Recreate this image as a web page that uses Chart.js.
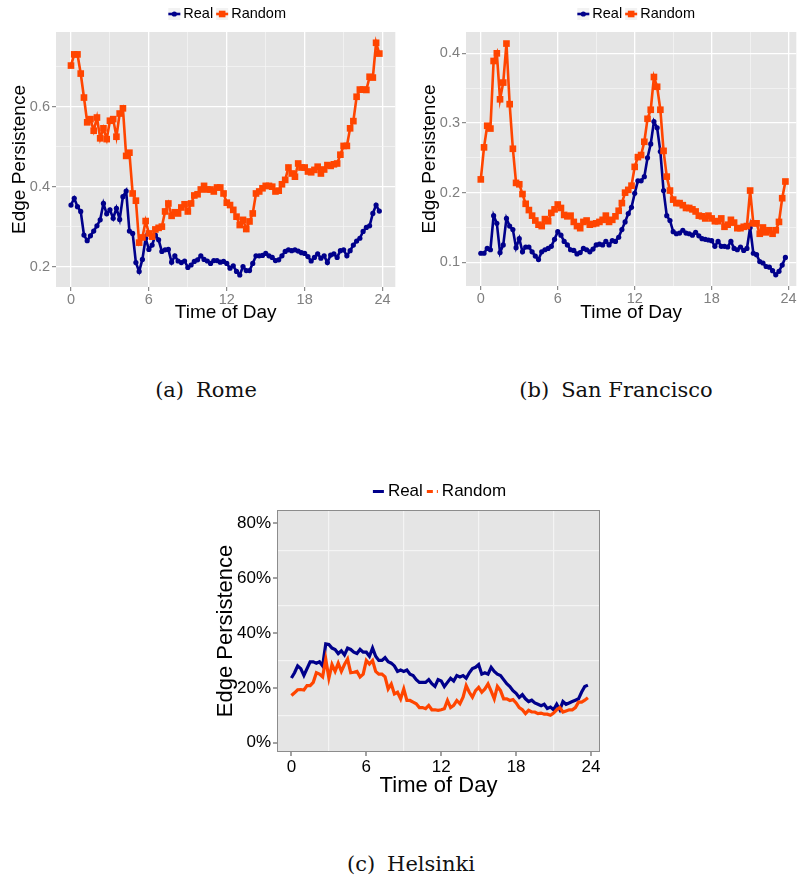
<!DOCTYPE html>
<html>
<head>
<meta charset="utf-8">
<script src="https://cdn.jsdelivr.net/npm/chart.js@4/dist/chart.umd.min.js"></script>
<style>
  html, body { margin: 0; padding: 0; background: #fff; }
  body { position: relative; width: 801px; height: 878px; overflow: hidden; }
  canvas { position: absolute; display: block; }
  .cap { position: absolute; font-family: "DejaVu Serif", serif; font-size: 21px; line-height: 24px;
         color: #111; white-space: nowrap; transform: translateX(-50%); }
  .cap .gap { display: inline-block; width: 12px; }
</style>
</head>
<body>
<canvas id="rome" width="400" height="330" style="left:0;top:0"></canvas>
<canvas id="sf" width="401" height="330" style="left:400px;top:0"></canvas>
<canvas id="helsinki" width="410" height="330" style="left:205px;top:475px"></canvas>
<div class="cap" style="left:206px;top:378px">(a)<span class="gap"></span>Rome</div>
<div class="cap" style="left:616px;top:378px">(b)<span class="gap"></span>San Francisco</div>
<div class="cap" style="left:411px;top:852px">(c)<span class="gap"></span>Helsinki</div>
<script>
// Time of day, one sample every 15 minutes
const HOURS = [
  0, 0.25, 0.5, 0.75, 1, 1.25, 1.5, 1.75, 2, 2.25, 2.5, 2.75,
  3, 3.25, 3.5, 3.75, 4, 4.25, 4.5, 4.75, 5, 5.25, 5.5, 5.75,
  6, 6.25, 6.5, 6.75, 7, 7.25, 7.5, 7.75, 8, 8.25, 8.5, 8.75,
  9, 9.25, 9.5, 9.75, 10, 10.25, 10.5, 10.75, 11, 11.25, 11.5, 11.75,
  12, 12.25, 12.5, 12.75, 13, 13.25, 13.5, 13.75, 14, 14.25, 14.5, 14.75,
  15, 15.25, 15.5, 15.75, 16, 16.25, 16.5, 16.75, 17, 17.25, 17.5, 17.75,
  18, 18.25, 18.5, 18.75, 19, 19.25, 19.5, 19.75, 20, 20.25, 20.5, 20.75,
  21, 21.25, 21.5, 21.75, 22, 22.25, 22.5, 22.75, 23, 23.25, 23.5, 23.75
];
const SERIES = ['Real', 'Random'];

// Rome
const ROME_REAL = [
  0.354, 0.371, 0.350, 0.338, 0.279, 0.265, 0.277, 0.289, 0.302, 0.317, 0.358, 0.332,
  0.342, 0.321, 0.346, 0.318, 0.375, 0.389, 0.289, 0.283, 0.210, 0.188, 0.218, 0.271,
  0.243, 0.254, 0.279, 0.267, 0.238, 0.242, 0.243, 0.211, 0.227, 0.214, 0.210, 0.214,
  0.198, 0.204, 0.213, 0.217, 0.227, 0.218, 0.214, 0.208, 0.215, 0.215, 0.211, 0.213,
  0.208, 0.196, 0.202, 0.188, 0.179, 0.200, 0.190, 0.190, 0.208, 0.227, 0.227, 0.228,
  0.233, 0.227, 0.223, 0.215, 0.217, 0.227, 0.238, 0.242, 0.240, 0.242, 0.239, 0.235,
  0.233, 0.225, 0.214, 0.223, 0.232, 0.221, 0.227, 0.210, 0.229, 0.232, 0.223, 0.240,
  0.242, 0.227, 0.240, 0.254, 0.264, 0.271, 0.288, 0.298, 0.302, 0.333, 0.354, 0.339
];
const ROME_RANDOM = [
  0.703, 0.731, 0.731, 0.683, 0.623, 0.561, 0.569, 0.540, 0.573, 0.521, 0.546, 0.519,
  0.565, 0.569, 0.525, 0.583, 0.596, 0.477, 0.485, 0.383, 0.365, 0.260, 0.273, 0.314,
  0.283, 0.275, 0.293, 0.297, 0.300, 0.338, 0.358, 0.327, 0.336, 0.333, 0.348, 0.356,
  0.338, 0.358, 0.378, 0.381, 0.393, 0.402, 0.393, 0.393, 0.388, 0.398, 0.398, 0.383,
  0.360, 0.354, 0.342, 0.325, 0.304, 0.317, 0.294, 0.313, 0.333, 0.383, 0.388, 0.396,
  0.402, 0.402, 0.400, 0.388, 0.390, 0.406, 0.417, 0.448, 0.433, 0.425, 0.458, 0.448,
  0.448, 0.438, 0.436, 0.442, 0.450, 0.433, 0.443, 0.454, 0.452, 0.456, 0.458, 0.480,
  0.502, 0.502, 0.546, 0.564, 0.625, 0.643, 0.643, 0.642, 0.675, 0.673, 0.760, 0.733
];

// San Francisco
const SF_REAL = [
  0.113, 0.113, 0.120, 0.118, 0.167, 0.156, 0.114, 0.125, 0.163, 0.152, 0.147, 0.121,
  0.134, 0.115, 0.122, 0.122, 0.115, 0.109, 0.104, 0.115, 0.118, 0.120, 0.123, 0.133,
  0.144, 0.139, 0.130, 0.125, 0.118, 0.117, 0.112, 0.114, 0.120, 0.118, 0.115, 0.119,
  0.125, 0.126, 0.125, 0.130, 0.125, 0.131, 0.130, 0.136, 0.147, 0.158, 0.170, 0.179,
  0.199, 0.217, 0.217, 0.223, 0.250, 0.270, 0.302, 0.293, 0.259, 0.203, 0.167, 0.160,
  0.144, 0.141, 0.142, 0.146, 0.142, 0.141, 0.139, 0.143, 0.138, 0.134, 0.133, 0.132,
  0.131, 0.123, 0.130, 0.123, 0.123, 0.122, 0.130, 0.120, 0.118, 0.122, 0.117, 0.120,
  0.150, 0.113, 0.111, 0.101, 0.099, 0.094, 0.093, 0.088, 0.082, 0.087, 0.096, 0.107
];
const SF_RANDOM = [
  0.219, 0.265, 0.296, 0.292, 0.389, 0.400, 0.334, 0.358, 0.414, 0.327, 0.263, 0.214,
  0.212, 0.198, 0.184, 0.175, 0.167, 0.160, 0.154, 0.152, 0.162, 0.159, 0.171, 0.176,
  0.183, 0.178, 0.168, 0.166, 0.167, 0.158, 0.152, 0.149, 0.158, 0.160, 0.154, 0.155,
  0.156, 0.158, 0.161, 0.167, 0.158, 0.161, 0.166, 0.174, 0.185, 0.200, 0.204, 0.210,
  0.237, 0.251, 0.254, 0.273, 0.306, 0.319, 0.366, 0.352, 0.319, 0.260, 0.223, 0.203,
  0.190, 0.185, 0.185, 0.182, 0.178, 0.178, 0.176, 0.173, 0.167, 0.166, 0.163, 0.167,
  0.163, 0.159, 0.159, 0.163, 0.151, 0.154, 0.161, 0.157, 0.149, 0.149, 0.151, 0.152,
  0.203, 0.156, 0.156, 0.141, 0.150, 0.143, 0.146, 0.141, 0.146, 0.158, 0.192, 0.216
];

// Helsinki (percent)
const HEL_REAL = [
  23.6, 25.5, 28.0, 27.0, 24.5, 27.0, 29.5, 29.5, 29.0, 29.5, 28.0, 36.0,
  35.8, 34.5, 34.0, 32.5, 33.5, 32.0, 34.5, 34.0, 33.0, 32.5, 34.0, 33.0,
  33.0, 31.5, 34.5, 31.5, 30.0, 30.0, 31.0, 29.5, 29.0, 28.0, 26.0, 26.5,
  26.0, 26.5, 25.0, 24.5, 23.0, 22.0, 22.0, 22.0, 23.0, 21.5, 20.5, 23.0,
  22.5, 20.5, 22.0, 23.5, 22.5, 24.5, 24.0, 24.5, 23.5, 25.5, 27.0, 27.5,
  28.5, 25.0, 25.5, 25.0, 27.5, 26.0, 25.0, 24.5, 23.0, 21.5, 20.5, 19.0,
  18.0, 16.5, 17.5, 16.0, 15.0, 15.5, 14.5, 14.0, 13.5, 14.0, 12.5, 13.0,
  12.0, 14.0, 12.0, 15.0, 14.0, 14.5, 15.0, 15.5, 16.0, 18.5, 20.5, 21.0
];
const HEL_RANDOM = [
  17.2, 18.2, 19.3, 19.4, 19.2, 20.8, 20.8, 22.0, 25.5, 25.0, 24.0, 30.5,
  23.5, 28.5, 26.0, 29.0, 26.0, 28.5, 30.5, 25.5, 25.7, 26.0, 24.0, 25.0,
  30.0, 28.7, 30.0, 26.0, 25.0, 25.0, 24.0, 19.6, 21.4, 17.8, 18.4, 16.0,
  19.6, 15.4, 15.4, 14.8, 14.2, 12.8, 12.8, 12.4, 13.6, 12.0, 12.0, 11.8,
  12.0, 12.4, 15.4, 12.8, 13.6, 15.4, 14.2, 16.6, 20.8, 18.4, 16.6, 19.0,
  20.2, 18.4, 19.6, 21.4, 18.8, 16.0, 20.5, 19.0, 16.0, 16.0, 15.4, 15.7,
  14.5, 12.8, 12.0, 10.6, 11.8, 11.2, 11.2, 10.6, 10.8, 10.4, 10.4, 10.0,
  10.8, 12.0, 12.8, 11.2, 11.6, 12.0, 12.0, 12.8, 14.8, 14.8, 15.5, 16.4
];

// Axis ticks: every value gets a grid line, labelled ones get text and a tick mark
const X_TICKS = [0, 3, 6, 9, 12, 15, 18, 21, 24];
const X_LABELED = [0, 6, 12, 18, 24];
const ROME_Y_TICKS = [0.2, 0.3, 0.4, 0.5, 0.6, 0.7];
const ROME_Y_LABELED = [0.2, 0.4, 0.6];
const SF_Y_TICKS = [0.1, 0.15, 0.2, 0.25, 0.3, 0.35, 0.4];
const SF_Y_LABELED = [0.1, 0.2, 0.3, 0.4];
const HEL_Y_TICKS = [0, 10, 20, 30, 40, 50, 60, 70, 80];
const HEL_Y_LABELED = [0, 20, 40, 60, 80];

const NAVY = '#00008b';
const ORANGE = '#ff4500';
const SANS = '"Liberation Sans", Arial, Helvetica, sans-serif';
const NONE = 'rgba(0,0,0,0)';

function hasValue(list, v) { return list.some(t => Math.abs(t - v) < 1e-6); }
function points(values) { return HOURS.map((h, i) => ({ x: h, y: values[i] })); }

function buildScale(o) {
  const lineStyle = c => {
    if (!c.tick) return null;
    return hasValue(o.labeled, c.tick.value) ? o.majorLine : o.minorLine;
  };
  return {
    type: 'linear',
    min: o.min,
    max: o.max,
    afterBuildTicks: s => { s.ticks = o.ticks.map(v => ({ value: v })); },
    afterFit: s => { if (o.isX) s.height = o.size; else s.width = o.size; },
    ticks: {
      autoSkip: false, maxRotation: 0, minRotation: 0,
      padding: o.tickPad,
      color: o.labelColor,
      font: { family: SANS, size: o.tickSize },
      callback: v => hasValue(o.labeled, v) ? o.fmt(v) : ''
    },
    grid: {
      drawOnChartArea: true,
      drawTicks: true,
      tickLength: 4,
      color: c => { const s = lineStyle(c); return s ? s.color : NONE; },
      lineWidth: c => { const s = lineStyle(c); return s ? s.width : 0; },
      tickColor: c => (c.tick && hasValue(o.labeled, c.tick.value)) ? o.tickMarkColor : NONE,
      tickWidth: 1.1
    },
    border: { display: false },
    title: {
      display: true,
      text: o.title,
      color: '#000',
      font: { family: SANS, size: o.titleSize, lineHeight: 1.2 },
      padding: o.isX ? { top: 0, bottom: o.titlePad } : { top: o.titlePad, bottom: 0 }
    }
  };
}

// Gray plotting panel, optional frame, and the key row above the panel
const panelPlugin = {
  id: 'panel',
  beforeDraw(chart, args, opts) {
    const { ctx, chartArea: a } = chart;
    ctx.save();
    ctx.fillStyle = opts.fill;
    ctx.fillRect(a.left, a.top, a.right - a.left, a.bottom - a.top);
    ctx.restore();
  },
  afterDraw(chart, args, opts) {
    const { ctx, chartArea: a } = chart;
    if (opts.frame) {
      ctx.save();
      ctx.strokeStyle = opts.frame;
      ctx.lineWidth = 1;
      ctx.strokeRect(Math.round(a.left) + 0.5, Math.round(a.top) + 0.5,
                     Math.round(a.right - a.left) - 1, Math.round(a.bottom - a.top) - 1);
      ctx.restore();
    }
    const k = opts.key;
    if (!k) return;
    ctx.save();
    ctx.font = k.fontSize + 'px ' + SANS;
    ctx.textBaseline = 'middle';
    const parts = k.items.map(it => ({ it, w: ctx.measureText(it.label).width }));
    const total = parts.reduce((s, p) => s + k.keyW + k.keyGap + p.w, 0) + k.itemGap * (parts.length - 1);
    let x = (a.left + a.right) / 2 + k.shiftX - total / 2;
    const y = k.y;
    parts.forEach(p => {
      const it = p.it;
      if (k.box) {
        ctx.fillStyle = '#f2f2f2';
        ctx.fillRect(x, y - k.keyW / 2, k.keyW, k.keyW);
      }
      ctx.strokeStyle = it.color;
      ctx.lineWidth = k.lineWidth;
      ctx.setLineDash(it.dash || []);
      ctx.beginPath();
      ctx.moveTo(x, y);
      ctx.lineTo(x + k.keyW, y);
      ctx.stroke();
      ctx.setLineDash([]);
      ctx.fillStyle = it.color;
      const cx = x + k.keyW / 2;
      if (it.marker === 'circle') {
        ctx.beginPath(); ctx.arc(cx, y, 2.6, 0, Math.PI * 2); ctx.fill();
      } else if (it.marker === 'rect') {
        ctx.fillRect(cx - 3.3, y - 3.3, 6.6, 6.6);
      }
      x += k.keyW + k.keyGap;
      ctx.fillStyle = '#000';
      ctx.fillText(it.label, x, y);
      x += p.w + k.itemGap;
    });
    ctx.restore();
  }
};

function lineSet(label, values, color, width, pointStyle, radius, order) {
  return {
    label,
    data: points(values),
    borderColor: color,
    backgroundColor: color,
    borderWidth: width,
    tension: 0,
    pointStyle: pointStyle || 'circle',
    pointRadius: radius,
    pointBorderWidth: 0,
    pointBackgroundColor: color,
    pointBorderColor: color,
    order
  };
}

function makeCityChart(id, c) {
  return new Chart(document.getElementById(id), {
    type: 'line',
    data: { datasets: c.datasets },
    options: {
      responsive: false,
      animation: false,
      events: [],
      clip: false,
      layout: { padding: c.padding },
      plugins: {
        legend: { display: false },
        tooltip: { enabled: false },
        panel: { fill: '#e5e5e5', frame: c.frame, key: c.key }
      },
      scales: { x: c.x, y: c.y }
    },
    plugins: [panelPlugin]
  });
}

const GRAY_TXT = '#7f7f7f';
const MAJOR = { color: '#ffffff', width: 1.3 };
const MINOR = { color: '#f6f6f6', width: 0.7 };

// Rome
makeCityChart('rome', {
  datasets: [
    lineSet(SERIES[0], ROME_REAL, NAVY, 2.6, 'circle', 2.6, 1),
    lineSet(SERIES[1], ROME_RANDOM, ORANGE, 2.6, 'rect', 4.7, 0)
  ],
  padding: { top: 32, right: 4, bottom: 0, left: 0 },
  key: { y: 14, fontSize: 14.5, keyW: 12, keyGap: 3, itemGap: 3, box: true, lineWidth: 2.6, shiftX: 1.5,
         items: [{ label: SERIES[0], color: NAVY, marker: 'circle' }, { label: SERIES[1], color: ORANGE, marker: 'rect' }] },
  x: buildScale({ isX: true, min: -1.154, max: 24.98, ticks: X_TICKS, labeled: X_LABELED, fmt: v => String(v),
                  size: 43, tickPad: 0, tickSize: 14.5, labelColor: GRAY_TXT, tickMarkColor: GRAY_TXT,
                  majorLine: MAJOR, minorLine: MINOR, title: 'Time of Day', titleSize: 19, titlePad: 6 }),
  y: buildScale({ isX: false, min: 0.149, max: 0.787, ticks: ROME_Y_TICKS, labeled: ROME_Y_LABELED, fmt: v => v.toFixed(1),
                  size: 56, tickPad: 2, tickSize: 14.5, labelColor: GRAY_TXT, tickMarkColor: GRAY_TXT,
                  majorLine: MAJOR, minorLine: MINOR, title: 'Edge Persistence', titleSize: 19, titlePad: 8.6 })
});

// San Francisco
makeCityChart('sf', {
  datasets: [
    lineSet(SERIES[0], SF_REAL, NAVY, 2.6, 'circle', 2.6, 1),
    lineSet(SERIES[1], SF_RANDOM, ORANGE, 2.6, 'rect', 4.7, 0)
  ],
  padding: { top: 32, right: 0, bottom: 0, left: 0 },
  key: { y: 14, fontSize: 14.5, keyW: 12, keyGap: 3, itemGap: 3, box: true, lineWidth: 2.6, shiftX: 5,
         items: [{ label: SERIES[0], color: NAVY, marker: 'circle' }, { label: SERIES[1], color: ORANGE, marker: 'rect' }] },
  x: buildScale({ isX: true, min: -1.154, max: 24.6, ticks: X_TICKS, labeled: X_LABELED, fmt: v => String(v),
                  size: 44, tickPad: 0, tickSize: 14.5, labelColor: GRAY_TXT, tickMarkColor: GRAY_TXT,
                  majorLine: MAJOR, minorLine: MINOR, title: 'Time of Day', titleSize: 19, titlePad: 6 }),
  y: buildScale({ isX: false, min: 0.066, max: 0.4306, ticks: SF_Y_TICKS, labeled: SF_Y_LABELED, fmt: v => v.toFixed(1),
                  size: 66, tickPad: 2, tickSize: 14.5, labelColor: GRAY_TXT, tickMarkColor: GRAY_TXT,
                  majorLine: MAJOR, minorLine: MINOR, title: 'Edge Persistence', titleSize: 19, titlePad: 18.6 })
});

// Helsinki: only the in-between grid lines are drawn
const HEL_MINOR = { color: '#f4f4f4', width: 1.2 };
makeCityChart('helsinki', {
  datasets: [
    lineSet(SERIES[0], HEL_REAL, NAVY, 3.2, 'circle', 0, 1),
    lineSet(SERIES[1], HEL_RANDOM, ORANGE, 3.2, 'circle', 0, 0)
  ],
  padding: { top: 35, right: 15, bottom: 0, left: 0 },
  frame: '#8c8c8c',
  key: { y: 16.5, fontSize: 17, keyW: 11, keyGap: 4, itemGap: 4, box: false, lineWidth: 3, shiftX: 1,
         items: [{ label: SERIES[0], color: NAVY }, { label: SERIES[1], color: ORANGE, dash: [6, 4] }] },
  x: buildScale({ isX: true, min: -1.155, max: 24.72, ticks: X_TICKS, labeled: X_LABELED, fmt: v => String(v),
                  size: 53, tickPad: 1, tickSize: 17, labelColor: '#000', tickMarkColor: '#555',
                  majorLine: null, minorLine: HEL_MINOR, title: 'Time of Day', titleSize: 22, titlePad: 6 }),
  y: buildScale({ isX: false, min: -3.39, max: 84.85, ticks: HEL_Y_TICKS, labeled: HEL_Y_LABELED, fmt: v => v + '%',
                  size: 72, tickPad: 2, tickSize: 17, labelColor: '#000', tickMarkColor: '#555',
                  majorLine: null, minorLine: HEL_MINOR, title: 'Edge Persistence', titleSize: 22, titlePad: 7.8 })
});
</script>
</body>
</html>
